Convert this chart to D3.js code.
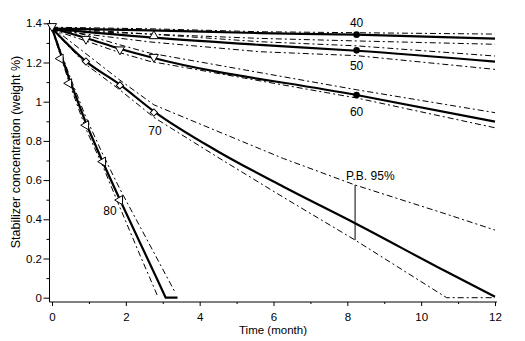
<!DOCTYPE html>
<html>
<head>
<meta charset="utf-8">
<script src="https://cdn.jsdelivr.net/npm/d3@7"></script>
<style>
  html, body { margin: 0; padding: 0; background: #fff; }
  svg { display: block; font-family: Arial, "Liberation Sans", sans-serif; }
</style>
</head>
<body>
<svg id="chart" width="525" height="341"></svg>
<script>
// ---------- data ----------
const xMajorTicks = [0, 2, 4, 6, 8, 10, 12];
const xMinorTicks = [1, 3, 5, 7, 9, 11];
const yMajorTicks = [0, 0.2, 0.4, 0.6, 0.8, 1, 1.2, 1.4];
const yTickLabels = ["0", "0.2", "0.4", "0.6", "0.8", "1", "1.2", "1.4"];
const yMinorTicks = [0.1, 0.3, 0.5, 0.7, 0.9, 1.1, 1.3];

const temperatures = ["40", "50", "60", "70", "80"];

// time grids (month) per temperature
const t40 = [0, 2.65, 5.63, 8.25, 12];
const fit40 = [1.373, 1.364, 1.350, 1.342, 1.322];
const up40 = [1.380, 1.372, 1.357, 1.352, 1.345];
const lo40 = [1.366, 1.345, 1.323, 1.310, 1.293];

const t50 = [0, 2.65, 5.63, 8.25, 12];
const fit50 = [1.373, 1.328, 1.290, 1.260, 1.204];
const up50 = [1.378, 1.345, 1.306, 1.285, 1.233];
const lo50 = [1.366, 1.305, 1.255, 1.235, 1.165];

const t60 = [0, 0.92, 1.84, 2.65, 8.25, 12];
const fit60 = [1.375, 1.325, 1.270, 1.228, 1.034, 0.898];
const up60 = [1.380, 1.340, 1.290, 1.248, 1.061, 0.944];
const lo60 = [1.368, 1.310, 1.250, 1.206, 1.019, 0.867];

const t70 = [0, 0.92, 1.84, 2.76, 4.46, 6.27, 8.21, 10.69, 12];
const fit70 = [1.375, 1.206, 1.087, 0.951, 0.750, 0.566, 0.380, 0.132, 0.005];
const up70 = [1.380, 1.245, 1.110, 0.984, 0.851, 0.710, 0.575, 0.426, 0.345];
const lo70 = [1.370, 1.190, 1.060, 0.920, 0.720, 0.512, 0.294, 0.000, 0.000];

const t80 = [0, 0.46, 0.92, 1.38, 1.84, 2.40, 2.88, 3.08, 3.35, 3.40];
const fit80 = [1.375, 1.120, 0.890, 0.690, 0.500, 0.274, 0.081, 0.000, 0.000, 0.000];
const up80 = [1.380, 1.140, 0.920, 0.730, 0.554, 0.357, 0.188, 0.117, 0.022, null];
const lo80 = [1.370, 1.100, 0.860, 0.670, 0.460, 0.210, 0.000, null, null, null];

// measured points
const dotTimes = [8.25, 8.25, 8.25];
const dotValues = [1.342, 1.262, 1.034];
const upTriTimes = [2.76];
const upTriValues = [1.335];
const downTriTimes = [0, 0.92, 1.84, 2.76];
const downTriValues = [1.385, 1.320, 1.266, 1.228];
const diamondTimes = [0.92, 1.84, 2.76];
const diamondValues = [1.205, 1.083, 0.945];
const leftTriTimes = [0.23, 0.46, 0.92, 1.38, 1.84];
const leftTriValues = [1.220, 1.094, 0.880, 0.694, 0.498];

const pbTime = 8.21;
const pbLabel = "P.B. 95%";
const xTitle = "Time (month)";
const yTitle = "Stabilizer concentration (weight %)";

// ---------- drawing ----------
const svg = d3.select("#chart");
const x = d3.scaleLinear().domain([0, 12]).range([52, 495]);
const y = d3.scaleLinear().domain([0, 1.4]).range([297.7, 23.3]);

const axisY = 302;   // x-axis baseline
const axisX = 49.5;  // y-axis position
const FONT = "Arial, 'Liberation Sans', sans-serif";

// X axis
const gx = svg.append("g").attr("transform", `translate(0,${axisY})`);
gx.call(d3.axisBottom(x).tickValues(xMajorTicks).tickSize(4).tickPadding(7).tickSizeOuter(0));
gx.select(".domain").remove();
const gxm = svg.append("g").attr("transform", `translate(0,${axisY})`);
gxm.call(d3.axisBottom(x).tickValues(xMinorTicks).tickSize(2).tickFormat(""));
gxm.select(".domain").remove();
svg.append("line").attr("x1", axisX).attr("x2", 497).attr("y1", axisY).attr("y2", axisY)
  .attr("stroke", "#000").attr("stroke-width", 1);

// Y axis
const gy = svg.append("g").attr("transform", `translate(${axisX},0)`);
gy.call(d3.axisLeft(y).tickValues(yMajorTicks).tickSize(6).tickPadding(1.5)
  .tickFormat((d, i) => yTickLabels[i]));
gy.select(".domain").remove();
const gym = svg.append("g").attr("transform", `translate(${axisX},0)`);
gym.call(d3.axisLeft(y).tickValues(yMinorTicks).tickSize(3).tickFormat(""));
gym.select(".domain").remove();
svg.append("line").attr("x1", axisX).attr("x2", axisX).attr("y1", 20).attr("y2", axisY)
  .attr("stroke", "#000").attr("stroke-width", 1);

svg.selectAll(".tick text").attr("font-size", 11.5).attr("font-family", FONT).attr("fill", "#000");
svg.selectAll(".tick line").attr("stroke", "#000");

// titles
svg.append("text").attr("x", 273).attr("y", 334).attr("text-anchor", "middle")
  .attr("font-size", 11.5).attr("font-family", FONT).text(xTitle);
svg.append("text").attr("transform", "translate(20,152) rotate(-90)").attr("text-anchor", "middle")
  .attr("font-size", 12.5).attr("font-family", FONT).text(yTitle);

// lines
const lineSmooth = d3.line()
  .defined(d => d[1] !== null)
  .curve(d3.curveMonotoneX)
  .x(d => x(d[0])).y(d => y(d[1]));
const lineStraight = d3.line()
  .defined(d => d[1] !== null)
  .x(d => x(d[0])).y(d => y(d[1]));

const series = [
  [t40, fit40, up40, lo40, true],
  [t50, fit50, up50, lo50, true],
  [t60, fit60, up60, lo60, true],
  [t70, fit70, up70, lo70, true],
  [t80, fit80, up80, lo80, false]
];

const plot = svg.append("g");
series.forEach(([t, fit, up, lo, smooth]) => {
  [up, lo].forEach(vals => {
    plot.append("path").datum(t.map((tt, i) => [tt, vals[i]]))
      .attr("d", lineStraight).attr("fill", "none").attr("stroke", "#000")
      .attr("stroke-width", 1).attr("stroke-dasharray", "6,3,2,3");
  });
  plot.append("path").datum(t.map((tt, i) => [tt, fit[i]]))
    .attr("d", smooth ? lineSmooth : lineStraight).attr("fill", "none").attr("stroke", "#000")
    .attr("stroke-width", 2.2).attr("stroke-linejoin", "round");
});

// markers
const mk = svg.append("g");
function drawSym(times, vals, type, size, rot) {
  mk.selectAll(null).data(times.map((t, i) => [t, vals[i]])).enter()
    .append("path")
    .attr("d", d3.symbol().type(type).size(size))
    .attr("transform", d => `translate(${x(d[0])},${y(d[1])}) rotate(${rot})`)
    .attr("fill", "#fff").attr("stroke", "#000").attr("stroke-width", 1);
}
drawSym(upTriTimes, upTriValues, d3.symbolTriangle, 36, 0);
drawSym(downTriTimes, downTriValues, d3.symbolTriangle, 36, 180);
drawSym(diamondTimes, diamondValues, d3.symbolSquare, 26, 45);
drawSym(leftTriTimes, leftTriValues, d3.symbolTriangle, 36, -90);

mk.selectAll(null).data(dotTimes.map((t, i) => [t, dotValues[i]])).enter()
  .append("circle").attr("cx", d => x(d[0])).attr("cy", d => y(d[1])).attr("r", 3.3)
  .attr("fill", "#000");

// temperature labels
const labelPos = [
  [x(8.25), y(dotValues[0]) - 8],
  [x(8.25), y(dotValues[1]) + 20],
  [x(8.25), y(dotValues[2]) + 21],
  [x(2.79), y(0.83)],
  [x(1.57), y(0.42)]
];
temperatures.forEach((lab, i) => {
  svg.append("text").attr("x", labelPos[i][0]).attr("y", labelPos[i][1])
    .attr("text-anchor", "middle").attr("font-size", 12).attr("font-family", FONT).text(lab);
});

// P.B. 95% annotation
const pbUp = up70[t70.indexOf(pbTime)];
const pbLo = lo70[t70.indexOf(pbTime)];
svg.append("line").attr("x1", x(pbTime)).attr("x2", x(pbTime))
  .attr("y1", y(pbUp)).attr("y2", y(pbLo)).attr("stroke", "#000").attr("stroke-width", 1);
svg.append("text").attr("x", x(pbTime) - 9).attr("y", y(pbUp) - 5)
  .attr("font-size", 12).attr("font-family", FONT).text(pbLabel);
</script>
</body>
</html>
